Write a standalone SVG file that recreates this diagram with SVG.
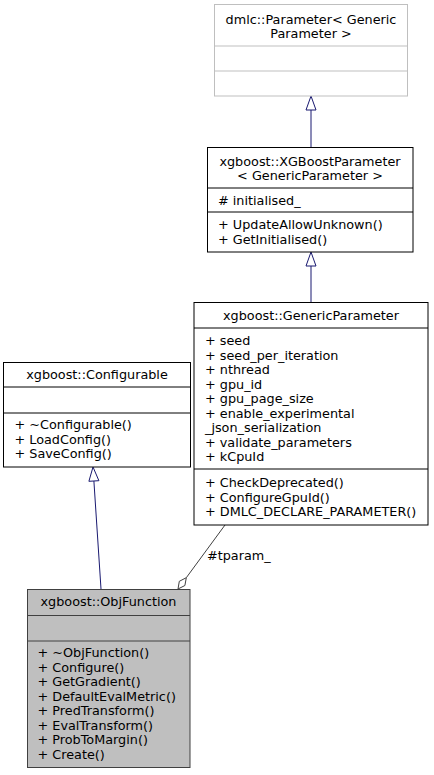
<svg xmlns="http://www.w3.org/2000/svg" width="434" height="775" viewBox="0 0 434 775">
<style>
text{font-family:"DejaVu Sans","Liberation Sans",sans-serif;font-size:12.8px;fill:#000}
.c{text-anchor:middle}
.box{fill:#fff;stroke:#000;stroke-width:1}
.ext{fill:#fff;stroke:#bfbfbf;stroke-width:1}
.root{fill:#bfbfbf;stroke:#404040;stroke-width:1}
.div{stroke:#000;stroke-width:1}
.divg{stroke:#bfbfbf;stroke-width:1}
.divr{stroke:#404040;stroke-width:1}
.inh{stroke:#191970;stroke-width:1;fill:none}
.tri{fill:#fff;stroke:#191970;stroke-width:1}
.agg{stroke:#404040;stroke-width:1;fill:none}
.dia{fill:#fff;stroke:#404040;stroke-width:1}
</style>
<rect width="434" height="775" fill="#fff"/>
<g id="connectors">
<line class="inh" x1="311" y1="147" x2="311" y2="110"/>
<polygon class="tri" points="311,96 306,110 316,110"/>
<line class="inh" x1="311" y1="302.5" x2="311" y2="266"/>
<polygon class="tri" points="311,252 306,266 316,266"/>
<line class="inh" x1="101" y1="589" x2="93.9" y2="481"/>
<polygon class="tri" points="93,467 98.9,480.7 88.9,481.3"/>
<line class="agg" x1="225" y1="525" x2="186.3" y2="577.7"/>
<polygon class="dia" points="178,589 179.3,581.3 186.3,577.7 184.9,585.5"/>
<text x="207" y="560">#tparam_</text>
</g>
<g id="node_dmlc_Parameter">
<rect class="ext" x="214.5" y="4.5" width="193" height="91.5"/>
<line class="divg" x1="214.5" y1="46" x2="407.5" y2="46"/>
<line class="divg" x1="214.5" y1="71" x2="407.5" y2="71"/>
<text class="c" x="311" y="23.5">dmlc::Parameter&lt; Generic</text>
<text class="c" x="311" y="38">Parameter &gt;</text>
</g>
<g id="node_XGBoostParameter">
<rect class="box" x="207.5" y="147.5" width="205.5" height="104.5"/>
<line class="div" x1="207.5" y1="188" x2="413" y2="188"/>
<line class="div" x1="207.5" y1="212" x2="413" y2="212"/>
<text class="c" x="310" y="165.5">xgboost::XGBoostParameter</text>
<text class="c" x="310" y="180">&lt; GenericParameter &gt;</text>
<text x="218" y="204.5"># initialised_</text>
<text x="218" y="229">+ UpdateAllowUnknown()</text>
<text x="218" y="243.5">+ GetInitialised()</text>
</g>
<g id="node_GenericParameter">
<rect class="box" x="194" y="302.5" width="234" height="222.5"/>
<line class="div" x1="194" y1="328" x2="428" y2="328"/>
<line class="div" x1="194" y1="469" x2="428" y2="469"/>
<text class="c" x="311" y="319.5">xgboost::GenericParameter</text>
<text x="205" y="345">+ seed</text>
<text x="205" y="359.5">+ seed_per_iteration</text>
<text x="205" y="374">+ nthread</text>
<text x="205" y="388.5">+ gpu_id</text>
<text x="205" y="403">+ gpu_page_size</text>
<text x="205" y="417.5">+ enable_experimental</text>
<text x="205" y="432">_json_serialization</text>
<text x="205" y="446.5">+ validate_parameters</text>
<text x="205" y="461">+ kCpuId</text>
<text x="205" y="487">+ CheckDeprecated()</text>
<text x="205" y="501.5">+ ConfigureGpuId()</text>
<text x="205" y="516">+ DMLC_DECLARE_PARAMETER()</text>
</g>
<g id="node_Configurable">
<rect class="box" x="3.5" y="362.5" width="187" height="104.5"/>
<line class="div" x1="3.5" y1="387" x2="190.5" y2="387"/>
<line class="div" x1="3.5" y1="413" x2="190.5" y2="413"/>
<text class="c" x="97" y="378.5">xgboost::Configurable</text>
<text x="14.5" y="429">+ ~Configurable()</text>
<text x="14.5" y="443.5">+ LoadConfig()</text>
<text x="14.5" y="458">+ SaveConfig()</text>
</g>
<g id="node_ObjFunction">
<rect class="root" x="27.5" y="589.5" width="162.5" height="178"/>
<line class="divr" x1="27.5" y1="615.5" x2="190" y2="615.5"/>
<line class="divr" x1="27.5" y1="641" x2="190" y2="641"/>
<text class="c" x="108.5" y="606">xgboost::ObjFunction</text>
<text x="37.5" y="657">+ ~ObjFunction()</text>
<text x="37.5" y="671.5">+ Configure()</text>
<text x="37.5" y="686">+ GetGradient()</text>
<text x="37.5" y="700.5">+ DefaultEvalMetric()</text>
<text x="37.5" y="715">+ PredTransform()</text>
<text x="37.5" y="729.5">+ EvalTransform()</text>
<text x="37.5" y="744">+ ProbToMargin()</text>
<text x="37.5" y="758.5">+ Create()</text>
</g>
</svg>
